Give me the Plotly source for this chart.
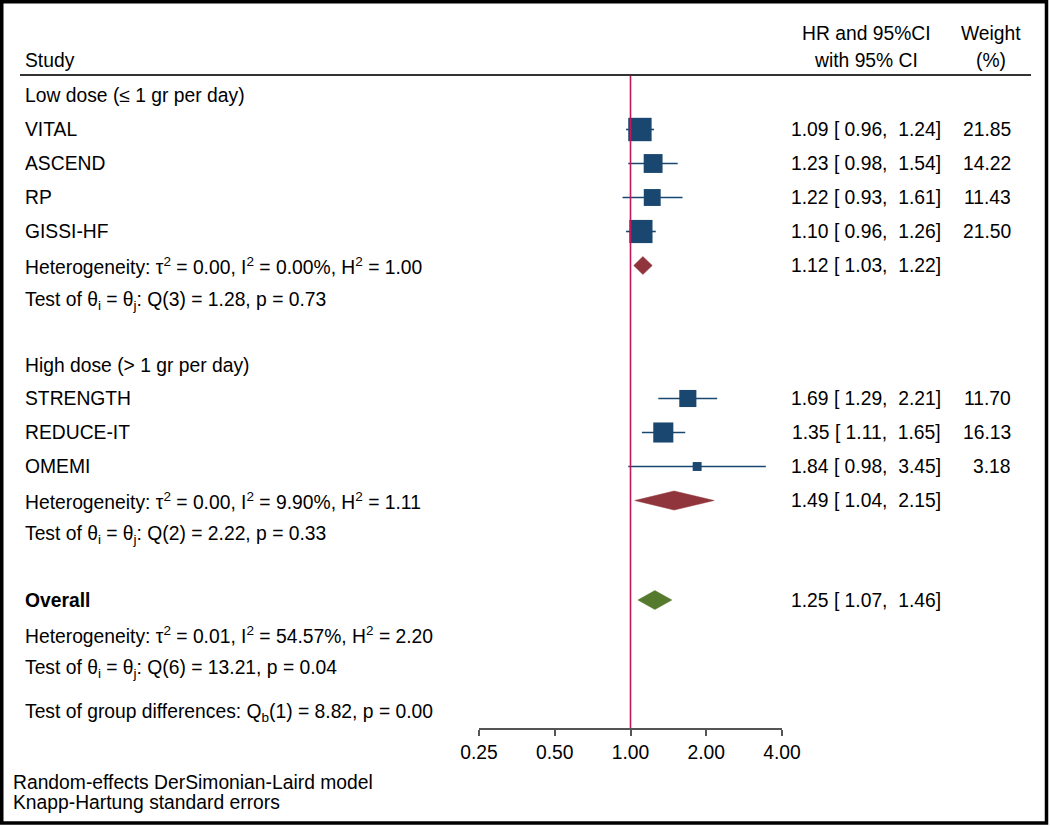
import plotly.graph_objects as go

# ---------------- data ----------------
group_labels = ["Low dose (≤ 1 gr per day)", "High dose (> 1 gr per day)"]
studies = ["VITAL", "ASCEND", "RP", "GISSI-HF", "STRENGTH", "REDUCE-IT", "OMEMI"]
study_group = [0, 0, 0, 0, 1, 1, 1]
hr = [1.09, 1.23, 1.22, 1.10, 1.69, 1.35, 1.84]
ci_low = [0.96, 0.98, 0.93, 0.96, 1.29, 1.11, 0.98]
ci_high = [1.24, 1.54, 1.61, 1.26, 2.21, 1.65, 3.45]
weights = [21.85, 14.22, 11.43, 21.50, 11.70, 16.13, 3.18]

sub_hr = [1.12, 1.49]
sub_low = [1.03, 1.04]
sub_high = [1.22, 2.15]

overall_hr = 1.25
overall_low = 1.07
overall_high = 1.46

het_text = [
    "Heterogeneity: τ<sup>2</sup> = 0.00, I<sup>2</sup> = 0.00%, H<sup>2</sup> = 1.00",
    "Heterogeneity: τ<sup>2</sup> = 0.00, I<sup>2</sup> = 9.90%, H<sup>2</sup> = 1.11",
]
test_text = [
    "Test of θ<sub>i</sub> = θ<sub>j</sub>: Q(3) = 1.28, p = 0.73",
    "Test of θ<sub>i</sub> = θ<sub>j</sub>: Q(2) = 2.22, p = 0.33",
]
overall_het = "Heterogeneity: τ<sup>2</sup> = 0.01, I<sup>2</sup> = 54.57%, H<sup>2</sup> = 2.20"
overall_test = "Test of θ<sub>i</sub> = θ<sub>j</sub>: Q(6) = 13.21, p = 0.04"
group_diff = "Test of group differences: Q<sub>b</sub>(1) = 8.82, p = 0.00"
footnotes = ["Random-effects DerSimonian-Laird model", "Knapp-Hartung standard errors"]

tick_vals = [0.25, 0.5, 1, 2, 4]
tick_text = ["0.25", "0.50", "1.00", "2.00", "4.00"]

# ---------------- layout constants (pixels) ----------------
W, H = 1050, 826
FONT = "Liberation Sans, Arial, Helvetica, sans-serif"
FS = 19.3
NAVY = "#1A476F"
MAROON = "#90353B"
GREEN = "#557A2E"
REDLINE = "#C2185B"

group_header_y = [95.5, 365]
study_y = [129.5, 163.5, 197.5, 231.5, 398.5, 432.5, 466.5]
het_y = [265.5, 500.5]
test_y = [300.5, 535]
overall_y = 600
overall_het_y = 634.5
overall_test_y = 668.5
group_diff_y = 713
foot_y = [782, 802]
axis_y = 729
header_line_y = 75

X_LEFT = 23
X_CI_RIGHT = 943
X_W_RIGHT = 1013

def px(x):
    return x / W

def nb(s):
    return s.replace(" ", "\u00a0")

def ci_str(h, l, u):
    return nb(f"{h:.2f} [{l:5.2f}, {u:5.2f}]")

fig = go.Figure()

# CI lines for studies
lx, ly = [], []
for l, u, y in zip(ci_low, ci_high, study_y):
    lx += [l, u, None]
    ly += [y, y, None]
fig.add_trace(go.Scatter(x=lx, y=ly, mode="lines",
                         line=dict(color=NAVY, width=1.6),
                         hoverinfo="skip", showlegend=False))

# study squares (area proportional to weight)
fig.add_trace(go.Scatter(
    x=hr, y=study_y, mode="markers",
    marker=dict(symbol="square", color=NAVY, opacity=1,
                size=[5.0 * w ** 0.5 for w in weights],
                line=dict(width=0)),
    text=studies, hoverinfo="text", showlegend=False))

# diamonds
def diamond(h, l, u, y, color, hh=9.5):
    fig.add_trace(go.Scatter(
        x=[l, h, u, h, l], y=[y, y - hh, y, y + hh, y],
        mode="lines", fill="toself", fillcolor=color,
        line=dict(color=color, width=0.5),
        hoverinfo="skip", showlegend=False))

for g in range(2):
    diamond(sub_hr[g], sub_low[g], sub_high[g], het_y[g], MAROON, 9.0 if g == 0 else 9.5)
diamond(overall_hr, overall_low, overall_high, overall_y, GREEN)

# reference line at 1
fig.add_trace(go.Scatter(x=[1, 1], y=[header_line_y, axis_y], mode="lines",
                         line=dict(color=REDLINE, width=1.6),
                         hoverinfo="skip", showlegend=False))

ann = []
def text(x, y, s, anchor="left", bold=False):
    ann.append(dict(x=px(x), y=y, xref="paper", yref="y", text=(f"<b>{s}</b>" if bold else s),
                    showarrow=False, xanchor=anchor, yanchor="middle",
                    font=dict(family=FONT, size=FS, color="black")))

# headers
text(X_LEFT, 60, "Study")
text(866, 33, "HR and 95%CI", "center")
text(866, 60, "with 95% CI", "center")
text(991, 33, "Weight", "center")
text(991, 60, "(%)", "center")

for g in range(2):
    text(X_LEFT, group_header_y[g], group_labels[g])
    text(X_LEFT, het_y[g], het_text[g])
    text(X_LEFT, test_y[g], test_text[g])
    text(X_CI_RIGHT, het_y[g], ci_str(sub_hr[g], sub_low[g], sub_high[g]), "right")

for i, s in enumerate(studies):
    text(X_LEFT, study_y[i], s)
    text(X_CI_RIGHT, study_y[i], ci_str(hr[i], ci_low[i], ci_high[i]), "right")
    text(X_W_RIGHT, study_y[i], f"{weights[i]:.2f}", "right")

text(X_LEFT, overall_y, "Overall", bold=True)
text(X_CI_RIGHT, overall_y, ci_str(overall_hr, overall_low, overall_high), "right")
text(X_LEFT, overall_het_y, overall_het)
text(X_LEFT, overall_test_y, overall_test)
text(X_LEFT, group_diff_y, group_diff)
text(11, foot_y[0], footnotes[0])
text(11, foot_y[1], footnotes[1])

shapes = [
    dict(type="line", xref="paper", yref="y", x0=px(20), x1=px(1031),
         y0=header_line_y, y1=header_line_y, line=dict(color="#333333", width=1.8)),
    dict(type="rect", xref="paper", yref="y", x0=px(1.75), x1=px(1046.5),
         y0=1.75, y1=823, line=dict(color="black", width=3.5)),
]

fig.update_layout(
    template="none",
    width=W, height=H, autosize=False,
    margin=dict(l=0, r=0, t=0, b=0, pad=0, autoexpand=False),
    paper_bgcolor="white", plot_bgcolor="white",
    annotations=ann, shapes=shapes,
    xaxis=dict(type="log", domain=[px(479), px(782)],
               range=[-0.60206, 0.60206],
               anchor="free", position=1 - axis_y / H, automargin=False,
               showgrid=False, zeroline=False,
               showline=True, linecolor="#555555", linewidth=1.5,
               ticks="outside", ticklen=6, tickwidth=1.5, tickcolor="#555555",
               tickvals=tick_vals, ticktext=tick_text,
               tickfont=dict(family=FONT, size=FS, color="black")),
    yaxis=dict(range=[H, 0], domain=[0, 1], visible=False, fixedrange=True,
               automargin=False),
    showlegend=False,
)

fig.write_html("out.html", config={"displayModeBar": False},
               post_script="document.body.style.margin='0';document.body.style.overflow='hidden';")
